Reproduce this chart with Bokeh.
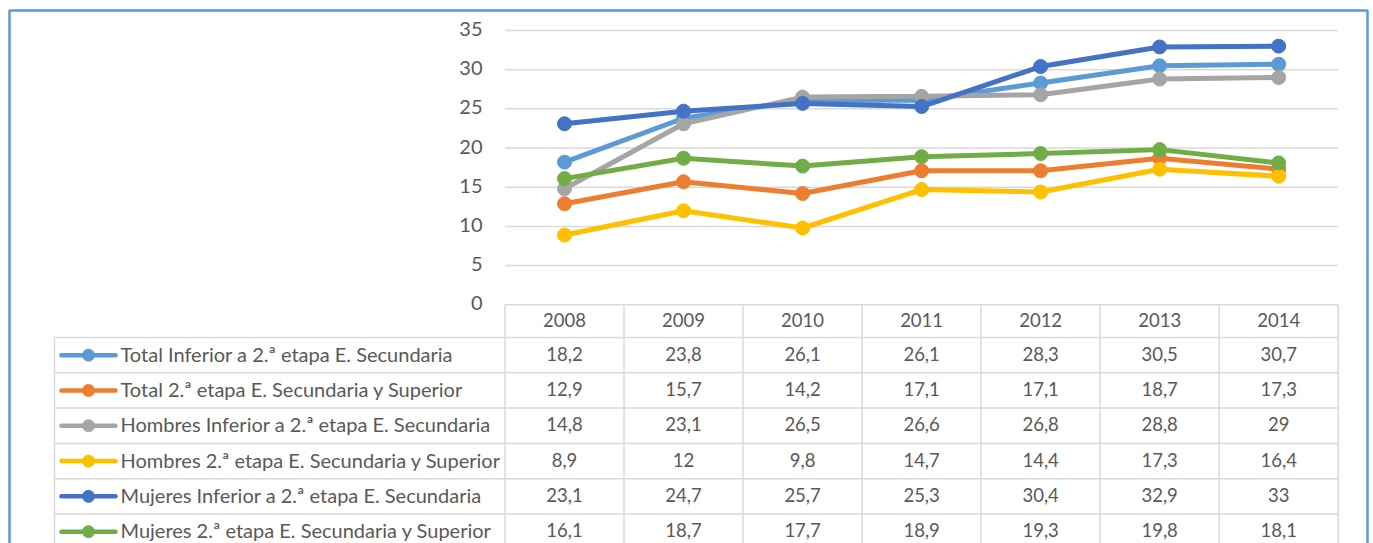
from bokeh.plotting import figure
from bokeh.models import Range1d
from bokeh.core.properties import value
from bokeh.embed import file_html
from bokeh.resources import INLINE

# ---------------- data ----------------
years = ["2008", "2009", "2010", "2011", "2012", "2013", "2014"]
series_names = [
    "Total Inferior a 2.ª etapa E. Secundaria",
    "Total 2.ª etapa E. Secundaria y Superior",
    "Hombres Inferior a 2.ª etapa E. Secundaria",
    "Hombres 2.ª etapa E. Secundaria y Superior",
    "Mujeres Inferior a 2.ª etapa E. Secundaria",
    "Mujeres 2.ª etapa E. Secundaria y Superior",
]
total_inferior = [18.2, 23.8, 26.1, 26.1, 28.3, 30.5, 30.7]
total_superior = [12.9, 15.7, 14.2, 17.1, 17.1, 18.7, 17.3]
hombres_inferior = [14.8, 23.1, 26.5, 26.6, 26.8, 28.8, 29]
hombres_superior = [8.9, 12, 9.8, 14.7, 14.4, 17.3, 16.4]
mujeres_inferior = [23.1, 24.7, 25.7, 25.3, 30.4, 32.9, 33]
mujeres_superior = [16.1, 18.7, 17.7, 18.9, 19.3, 19.8, 18.1]
y_ticks = [0, 5, 10, 15, 20, 25, 30, 35]

series_values = [total_inferior, total_superior, hombres_inferior,
                 hombres_superior, mujeres_inferior, mujeres_superior]
colors = ["#5B9BD5", "#ED7D31", "#A5A5A5", "#FFC000", "#4472C4", "#70AD47"]

# ---------------- layout (page pixels) ----------------
W, H = 1370, 543
OFF = 0
PX0, PX1 = 504.5, 1337.7     # plot area left/right
PY0, PY35 = 304.3, 30.0      # y=0 and y=35 pixel rows
COLW = (PX1 - PX0) / len(years)
PPU = (PY0 - PY35) / 35.0
ROW_TOP = 337.0
ROW_H = 35.3
TABLE_LEFT = 54.0
TEXT_SHIFT = 1.5             # raise texts slightly (px)
FONT = value("Lato")
TXT = "#595959"
GRID = "#D9D9D9"


def xd(px):
    return -0.5 + (px - PX0) / COLW


def yd(py):
    return (PY0 - py) / PPU


p = figure(width=W, height=H, output_backend="svg", toolbar_location=None,
           x_range=Range1d(xd(OFF), xd(OFF + W)),
           y_range=Range1d(yd(OFF + H), yd(OFF)),
           x_axis_type=None, y_axis_type=None, min_border=0)
p.outline_line_color = None
p.background_fill_color = "white"
p.border_fill_color = "white"

xs = list(range(len(years)))
x_left, x_right = -0.5, len(years) - 0.5
y_bot = yd(OFF + H + 40)
dy = TEXT_SHIFT / PPU

# horizontal gridlines
p.segment(x0=[x_left] * len(y_ticks), y0=y_ticks, x1=[x_right] * len(y_ticks),
          y1=y_ticks, line_color=GRID, line_width=1.5)

# y tick labels
p.text(x=[xd(482)] * len(y_ticks), y=[t + dy for t in y_ticks],
       text=[str(t) for t in y_ticks],
       text_align="right", text_baseline="middle", text_font=FONT,
       text_font_size="20px", text_color=TXT)

# table grid
vx = [x_left + i for i in range(len(years) + 1)]
p.segment(x0=vx, y0=[0] * len(vx), x1=vx, y1=[y_bot] * len(vx),
          line_color=GRID, line_width=1.5)
row_lines = [yd(ROW_TOP + k * ROW_H) for k in range(len(series_names) + 1)]
p.segment(x0=[xd(TABLE_LEFT)] * len(row_lines), y0=row_lines,
          x1=[x_right] * len(row_lines), y1=row_lines,
          line_color=GRID, line_width=1.5)
p.segment(x0=[xd(TABLE_LEFT)], y0=[yd(ROW_TOP)], x1=[xd(TABLE_LEFT)], y1=[y_bot],
          line_color=GRID, line_width=1.5)

# header years
p.text(x=xs, y=[yd((PY0 + ROW_TOP) / 2) + dy] * len(xs), text=years,
       text_align="center", text_baseline="middle", text_font=FONT,
       text_font_size="18.5px", text_color=TXT)


def fmt(v):
    if float(v).is_integer():
        return str(int(v))
    return str(v).replace(".", ",")


# series lines in chart
for vals, c in zip(series_values, colors):
    p.line(x=xs, y=vals, line_color=c, line_width=5)
    p.scatter(x=xs, y=vals, size=14, fill_color=c, line_color=c)

# table rows
for k, (name, vals, c) in enumerate(zip(series_names, series_values, colors)):
    yc = yd(ROW_TOP + (k + 0.5) * ROW_H)
    p.segment(x0=[xd(61)], y0=[yc], x1=[xd(115)], y1=[yc], line_color=c,
              line_width=4.5, line_cap="round")
    p.scatter(x=[xd(88)], y=[yc], size=12, fill_color=c, line_color=c)
    p.text(x=[xd(120)], y=[yc + dy], text=[name], text_align="left",
           text_baseline="middle", text_font=FONT, text_font_size="20px",
           text_color=TXT)
    p.text(x=xs, y=[yc + dy] * len(xs), text=[fmt(v) for v in vals],
           text_align="center", text_baseline="middle", text_font=FONT,
           text_font_size="18.5px", text_color=TXT)

# chart border
bx0, bx1, by0 = xd(9), xd(1367), yd(10)
p.multi_line(xs=[[bx0, bx0, bx1, bx1]], ys=[[y_bot, by0, by0, y_bot]],
             line_color="#5B9BD5", line_width=2.5)

open("out.html", "w").write(file_html(p, INLINE))
